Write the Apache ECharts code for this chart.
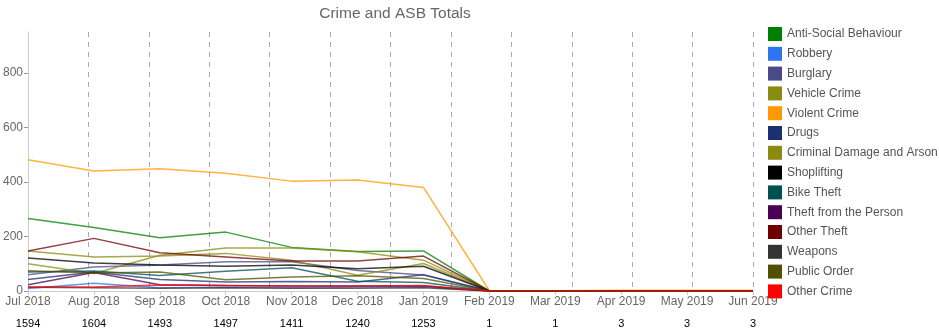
<!DOCTYPE html>
<html>
<head>
<meta charset="utf-8">
<script src="https://cdn.jsdelivr.net/npm/echarts@6/dist/echarts.min.js"></script>
<style>
html,body{margin:0;padding:0;background:#fff;}
#chart{width:939px;height:331px;}
</style>
</head>
<body>
<div id="chart"></div>
<script>
const months = ['Jul 2018','Aug 2018','Sep 2018','Oct 2018','Nov 2018','Dec 2018','Jan 2019','Feb 2019','Mar 2019','Apr 2019','May 2019','Jun 2019'];
const totals = ['1594','1604','1493','1497','1411','1240','1253','1','1','3','3','3'];
const yTicks = [0, 200, 400, 600, 800];

const antiSocial   = [266, 233, 195, 216, 160, 145, 147, 0, 0, 0, 0, 0];
const robbery      = [9, 28, 12, 14, 12, 15, 16, 0, 0, 0, 0, 0];
const burglary     = [60, 88, 95, 107, 107, 75, 59, 0, 0, 0, 0, 0];
const vehicleCrime = [100, 64, 131, 158, 158, 144, 113, 0, 0, 0, 0, 0];
const violentCrime = [481, 440, 448, 432, 403, 407, 380, 1, 1, 3, 3, 3];
const drugs        = [42, 70, 42, 33, 35, 33, 60, 0, 0, 0, 0, 0];
const criminalDmg  = [147, 125, 128, 138, 113, 58, 101, 0, 0, 0, 0, 0];
const shoplifting  = [121, 103, 95, 91, 95, 82, 91, 0, 0, 0, 0, 0];
const bikeTheft    = [70, 73, 57, 72, 85, 36, 31, 0, 0, 0, 0, 0];
const theftPerson  = [23, 68, 23, 20, 18, 18, 18, 0, 0, 0, 0, 0];
const otherTheft   = [147, 193, 140, 125, 110, 110, 128, 0, 0, 0, 0, 0];
const weapons      = [14, 12, 10, 12, 10, 10, 12, 0, 0, 0, 0, 0];
const publicOrder  = [74, 66, 70, 41, 51, 56, 46, 0, 0, 0, 0, 0];
const otherCrime   = [15, 15, 22, 20, 18, 18, 20, 0, 0, 0, 0, 0];

const seriesDefs = [
  ['Anti-Social Behaviour', antiSocial, '#008000'],
  ['Robbery', robbery, '#2f74f0'],
  ['Burglary', burglary, '#4a4a8a'],
  ['Vehicle Crime', vehicleCrime, '#8b8b12'],
  ['Violent Crime', violentCrime, '#ff9900'],
  ['Drugs', drugs, '#1a3070'],
  ['Criminal Damage and Arson', criminalDmg, '#8b8b12'],
  ['Shoplifting', shoplifting, '#000000'],
  ['Bike Theft', bikeTheft, '#005050'],
  ['Theft from the Person', theftPerson, '#4b0055'],
  ['Other Theft', otherTheft, '#700000'],
  ['Weapons', weapons, '#333333'],
  ['Public Order', publicOrder, '#505000'],
  ['Other Crime', otherCrime, '#ff0000']
];

const FONT = '"Liberation Sans", Arial, Helvetica, sans-serif';
const chart = echarts.init(document.getElementById('chart'), null, {renderer: 'canvas'});

chart.setOption({
  animation: false,
  backgroundColor: '#fff',
  textStyle: {fontFamily: FONT},
  title: {
    text: 'Crime and ASB Totals',
    left: 390, top: 1, textAlign: 'center',
    textStyle: {fontFamily: FONT, fontSize: 15.5, fontWeight: 'normal', color: '#666'}
  },
  legend: {
    orient: 'vertical',
    left: 763, top: 22,
    itemWidth: 14, itemHeight: 14, itemGap: 5.8,
    icon: 'rect',
    textStyle: {fontFamily: FONT, fontSize: 12, color: '#555', lineHeight: 14},
    data: seriesDefs.map(d => ({name: d[0], itemStyle: {color: d[2], opacity: 1}}))
  },
  grid: {left: 27, right: 186, top: 32, bottom: 40, containLabel: false},
  xAxis: [
    {
      type: 'category',
      data: months,
      boundaryGap: false,
      axisLine: {show: true, lineStyle: {color: '#ccc'}},
      axisTick: {show: true, length: 4, lineStyle: {color: '#ccc'}},
      splitLine: {show: false},
      axisLabel: {
        interval: 0,
        margin: 3,
        formatter: (v, i) => '{m|' + v + '}\n{t|' + totals[i] + '}',
        rich: {
          m: {fontFamily: FONT, fontSize: 12, color: '#666', lineHeight: 16},
          t: {fontFamily: FONT, fontSize: 11, color: '#000', lineHeight: 27}
        }
      }
    },
    {
      type: 'value',
      min: 0, max: 12, interval: 1,
      position: 'bottom',
      axisLine: {show: false},
      axisTick: {show: false},
      axisLabel: {show: false},
      splitLine: {show: true, lineStyle: {color: '#aaa', type: [5, 5], width: 1}}
    }
  ],
  yAxis: {
    type: 'value',
    min: 0, max: 950, interval: 200,
    axisLine: {show: true, lineStyle: {color: '#ccc'}},
    axisTick: {show: true, length: 4, lineStyle: {color: '#999'}},
    splitLine: {show: false},
    axisLabel: {
      margin: 5, color: '#666', fontSize: 12, fontFamily: FONT,
      showMaxLabel: false,
      formatter: v => (yTicks.indexOf(v) >= 0 ? String(v) : '')
    }
  },
  series: seriesDefs.map(d => ({
    name: d[0],
    type: 'line',
    xAxisIndex: 0,
    data: d[1],
    showSymbol: false,
    symbol: 'none',
    itemStyle: {color: d[2]},
    lineStyle: {color: d[2], width: 1.5, opacity: 0.75},
    emphasis: {disabled: true}
  }))
});
</script>
</body>
</html>
